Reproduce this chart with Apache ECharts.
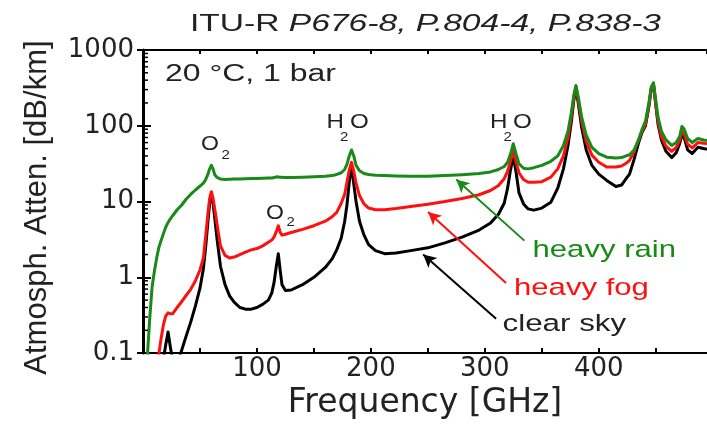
<!DOCTYPE html>
<html><head><meta charset="utf-8">
<script src="https://cdn.jsdelivr.net/npm/echarts@6/dist/echarts.min.js"></script>
<style>html,body{margin:0;padding:0;background:#fff}#c{width:707px;height:425px}</style>
</head><body><div id="c"></div>
<script>
// Frequency grid [GHz]
const freqGHz = [
  1, 4, 6, 8, 10, 12, 14, 16, 18, 20,
  22, 24, 26, 30, 34, 38, 42, 46, 50, 53,
  55, 57, 58.5, 60, 61.5, 63, 65, 68, 72, 76,
  80, 85, 90, 95, 100, 105, 110, 113, 115, 117,
  118.75, 120.5, 122, 125, 130, 140, 150, 160, 166, 170,
  174, 177, 179, 181, 183, 185, 187, 190, 194, 198,
  204, 212, 222, 235, 250, 265, 280, 295, 305, 312,
  317, 320, 322.5, 325, 327.5, 330, 334, 338, 343, 350,
  358, 364, 369, 373, 376, 378, 380, 382, 385, 389,
  394, 400, 407, 415, 420, 424, 427, 431, 435, 438,
  441, 444, 446, 448, 450, 452, 455, 459, 464, 468,
  471, 473, 475, 478, 482, 487, 492, 495
];
// Attenuation [dB/km]
const heavyRain = [
  0.02, 0.1, 0.3, 0.75, 1.2, 1.8, 2.5, 3.1, 3.8, 4.6,
  5.3, 5.9, 6.5, 7.8, 9.0, 10.8, 12.5, 14.2, 16, 17.5,
  19.5, 23, 27, 30, 27, 22.5, 20.8, 19.8, 19.6, 19.7,
  19.8, 19.9, 20, 20.1, 20.2, 20.3, 20.4, 20.5, 20.7, 21.2,
  21.8, 21.0, 20.7, 20.7, 20.8, 21, 21.2, 21.5, 22, 22.8,
  24, 26.5, 31, 40, 48, 40, 30, 25.5, 23.5, 22.7,
  22.2, 22, 21.8, 21.6, 21.6, 22, 22.6, 23.4, 24.6, 26.5,
  29, 33, 42, 58, 42, 31.5, 27.5, 27, 28, 30,
  34, 40, 55, 85, 150, 250, 340, 240, 130, 75,
  52, 43, 38.5, 37.5, 38, 40, 41.5, 48, 65, 90,
  115, 200, 320, 370, 220, 130, 85, 65, 55, 60,
  72, 98, 90, 68, 60, 68, 65, 64
];
const heavyFog = [
  0.005, 0.008, 0.012, 0.02, 0.035, 0.06, 0.1, 0.16, 0.24, 0.31,
  0.34, 0.33, 0.33, 0.4, 0.48, 0.58, 0.7, 0.9, 1.25, 1.8,
  3.5, 7, 11, 13.5, 11, 8, 5, 2.6, 1.95, 1.8,
  1.85, 2.0, 2.15, 2.3, 2.4, 2.6, 2.9, 3.1, 3.4, 4.0,
  4.8, 3.9, 3.6, 3.7, 3.9, 4.3, 4.8, 5.5, 6.3, 7.2,
  9.5, 12.5, 18, 26, 33, 25, 17.5, 12, 9.3, 8.2,
  7.8, 7.8, 8.1, 8.6, 9.2, 10, 11, 12.3, 14, 16.3,
  20, 25, 34, 46, 33, 24, 19.5, 18, 18, 18.3,
  21, 27, 40, 70, 135, 230, 330, 220, 115, 62,
  41, 33, 28.5, 28.5, 29.5, 32, 35, 45, 66, 85,
  105, 190, 310, 360, 200, 115, 72, 54, 46, 52,
  64, 84, 78, 57, 51, 60, 59, 58
];
const clearSky = [
  0.001, 0.003, 0.006, 0.01, 0.015, 0.022, 0.035, 0.05, 0.085, 0.13,
  0.19, 0.12, 0.08, 0.07, 0.11, 0.17, 0.26, 0.42, 0.72, 1.3,
  2.5, 5.5, 9.5, 12.8, 9.5, 6, 3.2, 1.4, 0.8, 0.57,
  0.47, 0.4, 0.38, 0.38, 0.4, 0.44, 0.5, 0.62, 0.85, 1.4,
  2.05, 1.2, 0.8, 0.67, 0.68, 0.8, 1.0, 1.35, 1.75, 2.3,
  3.3, 5.5, 9, 18, 30, 17, 10, 5.5, 3.6, 2.7,
  2.25, 2.05, 2.1, 2.25, 2.45, 2.85, 3.4, 4.2, 5.2, 6.8,
  9.5, 15, 26, 40, 24, 13, 9.3, 8, 7.7, 8.2,
  9.8, 15, 27, 55, 115, 210, 310, 200, 95, 48,
  30, 23, 19, 15.8, 16.5, 20, 23, 36, 60, 82,
  100, 180, 300, 355, 190, 105, 65, 46, 38, 44,
  58, 76, 70, 48, 43, 52, 50, 49
];
const yTickLabels = ['0.1', '1', '10', '100', '1000'];
const xLabelValues = [100, 200, 300, 400];
const yMinorTicks = [];
[0.1, 1, 10, 100].forEach(d => { for (let k = 2; k <= 9; k++) yMinorTicks.push(+(d * k).toPrecision(3)); });

const GREEN = '#178a17', RED = '#ff1010', BLACK = '#000000', TXT = '#222222';
const pairs = arr => freqGHz.map((f, i) => [f, arr[i]]);
const arrowLine = (color, from, to) => ({
  silent: true, symbol: ['none', 'arrow'], symbolSize: [10, 13], animation: false,
  label: { show: false }, lineStyle: { color: color, width: 2, type: 'solid' },
  emphasis: { disabled: true },
  data: [[{ coord: from }, { coord: to }]]
});

const chart = echarts.init(document.getElementById('c'), null, { renderer: 'canvas' });
const tickFont = { fontFamily: 'DejaVu Sans', fontSize: 26, color: TXT };
const sFont = 'Liberation Sans';
function txt(text, x, y, size, color, sx, extra) {
  return Object.assign({ type: 'text', x: x, y: y, scaleX: sx, silent: true,
    style: { text: text, fontFamily: sFont, fontSize: size, fill: color, align: 'left', verticalAlign: 'middle' } }, extra || {});
}
chart.setOption({
  animation: false,
  backgroundColor: '#fff',
  grid: { left: 143, right: -3, top: 50, bottom: 65, containLabel: false },
  xAxis: [{
    type: 'value', min: 0, max: 495, interval: 50, position: 'bottom',
    name: 'Frequency [GHz]', nameLocation: 'middle', nameGap: 25,
    nameTextStyle: { fontFamily: 'DejaVu Sans', fontSize: 33, color: TXT },
    axisLine: { show: true, lineStyle: { color: '#000', width: 2 } },
    axisTick: { show: true, inside: true, length: 5, lineStyle: { color: '#000', width: 2 } },
    axisLabel: Object.assign({ interval: 0, margin: 3, showMaxLabel: false,
      formatter: v => xLabelValues.indexOf(v) >= 0 ? String(v) : '' }, tickFont),
    splitLine: { show: false }
  }, {
    type: 'value', min: 0, max: 495, interval: 50, position: 'top',
    axisLine: { show: true, lineStyle: { color: '#000', width: 2 } },
    axisTick: { show: true, inside: true, length: 4, lineStyle: { color: '#000', width: 2 } },
    axisLabel: { show: false }, splitLine: { show: false }
  }],
  yAxis: [{
    type: 'log', logBase: 10, min: 0.1, max: 1000, position: 'left',
    name: 'Atmosph. Atten. [dB/km]', nameLocation: 'middle', nameGap: 90, nameRotate: 90,
    nameTextStyle: { fontFamily: 'Liberation Sans', fontSize: 31, color: TXT, padding: [0, 12, 0, 0] },
    axisLine: { show: true, lineStyle: { color: '#000', width: 3 } },
    axisTick: { show: true, inside: true, length: 8, lineStyle: { color: '#000', width: 2 } },
    axisLabel: Object.assign({ margin: 9,
      formatter: v => yTickLabels[Math.round(Math.log10(v)) + 1] }, tickFont),
    splitLine: { show: false }
  }, {
    type: 'log', logBase: 10, min: 0.1, max: 1000, position: 'right',
    axisLine: { show: true, lineStyle: { color: '#000', width: 2 } },
    axisTick: { show: true, inside: true, length: 6, lineStyle: { color: '#000', width: 2 } },
    axisLabel: { show: false }, splitLine: { show: false }
  }],
  series: [
    { type: 'custom', silent: true, clip: false, z: 5, xAxisIndex: 0, yAxisIndex: 0,
      data: yMinorTicks.map(v => [0, v]),
      renderItem: (p, api) => {
        const pt = api.coord([0, api.value(1)]);
        return { type: 'line', shape: { x1: pt[0], y1: pt[1], x2: pt[0] + 5, y2: pt[1] },
          style: { stroke: '#000', lineWidth: 1.5 } };
      } },
    { name: 'clear sky', type: 'line', data: pairs(clearSky), showSymbol: false, smooth: false, clip: true,
      lineStyle: { color: BLACK, width: 3, join: 'round' }, itemStyle: { color: BLACK }, z: 2,
      markLine: arrowLine(BLACK, [309.9, 0.283], [245.9, 2.0]) },
    { name: 'heavy fog', type: 'line', data: pairs(heavyFog), showSymbol: false, smooth: false, clip: true,
      lineStyle: { color: RED, width: 3, join: 'round' }, itemStyle: { color: RED }, z: 3,
      markLine: arrowLine(RED, [318.6, 0.84], [250.2, 7.3]) },
    { name: 'heavy rain', type: 'line', data: pairs(heavyRain), showSymbol: false, smooth: false, clip: true,
      lineStyle: { color: GREEN, width: 3, join: 'round' }, itemStyle: { color: GREEN }, z: 4,
      markLine: arrowLine(GREEN, [334.7, 3.05], [274.9, 19.5]) }
  ],
  graphic: [
    txt('ITU-R {i|P676-8, P.804-4, P.838-3}', 190, 25, 23, TXT, 1.46, {
      style: { text: 'ITU-R {i|P676-8, P.804-4, P.838-3}', fontFamily: sFont, fontSize: 23, fill: TXT,
        align: 'left', verticalAlign: 'middle',
        rich: { i: { fontStyle: 'italic', fontFamily: sFont, fontSize: 23, fill: TXT } } } }),
    txt('20 °C, 1 bar', 165, 74.5, 23, TXT, 1.39),
    txt('O', 201, 144, 20, TXT, 1.15), txt('2', 221.5, 155, 13, TXT, 1.15),
    txt('O', 266, 213, 20, TXT, 1.15), txt('2', 286.5, 222, 13, TXT, 1.15),
    txt('H', 326.5, 122.5, 21, TXT, 1.15), txt('2', 340, 137, 13, TXT, 1.15), txt('O', 350, 122.5, 21, TXT, 1.15),
    txt('H', 490, 122.5, 21, TXT, 1.15), txt('2', 503.5, 137, 13, TXT, 1.15), txt('O', 513, 122.5, 21, TXT, 1.15),
    txt('heavy rain', 532.5, 250.7, 24.5, GREEN, 1.27),
    txt('heavy fog', 514, 288, 24.5, RED, 1.27),
    txt('clear sky', 502.5, 324.7, 24.5, TXT, 1.28)
  ]
});
</script></body></html>
